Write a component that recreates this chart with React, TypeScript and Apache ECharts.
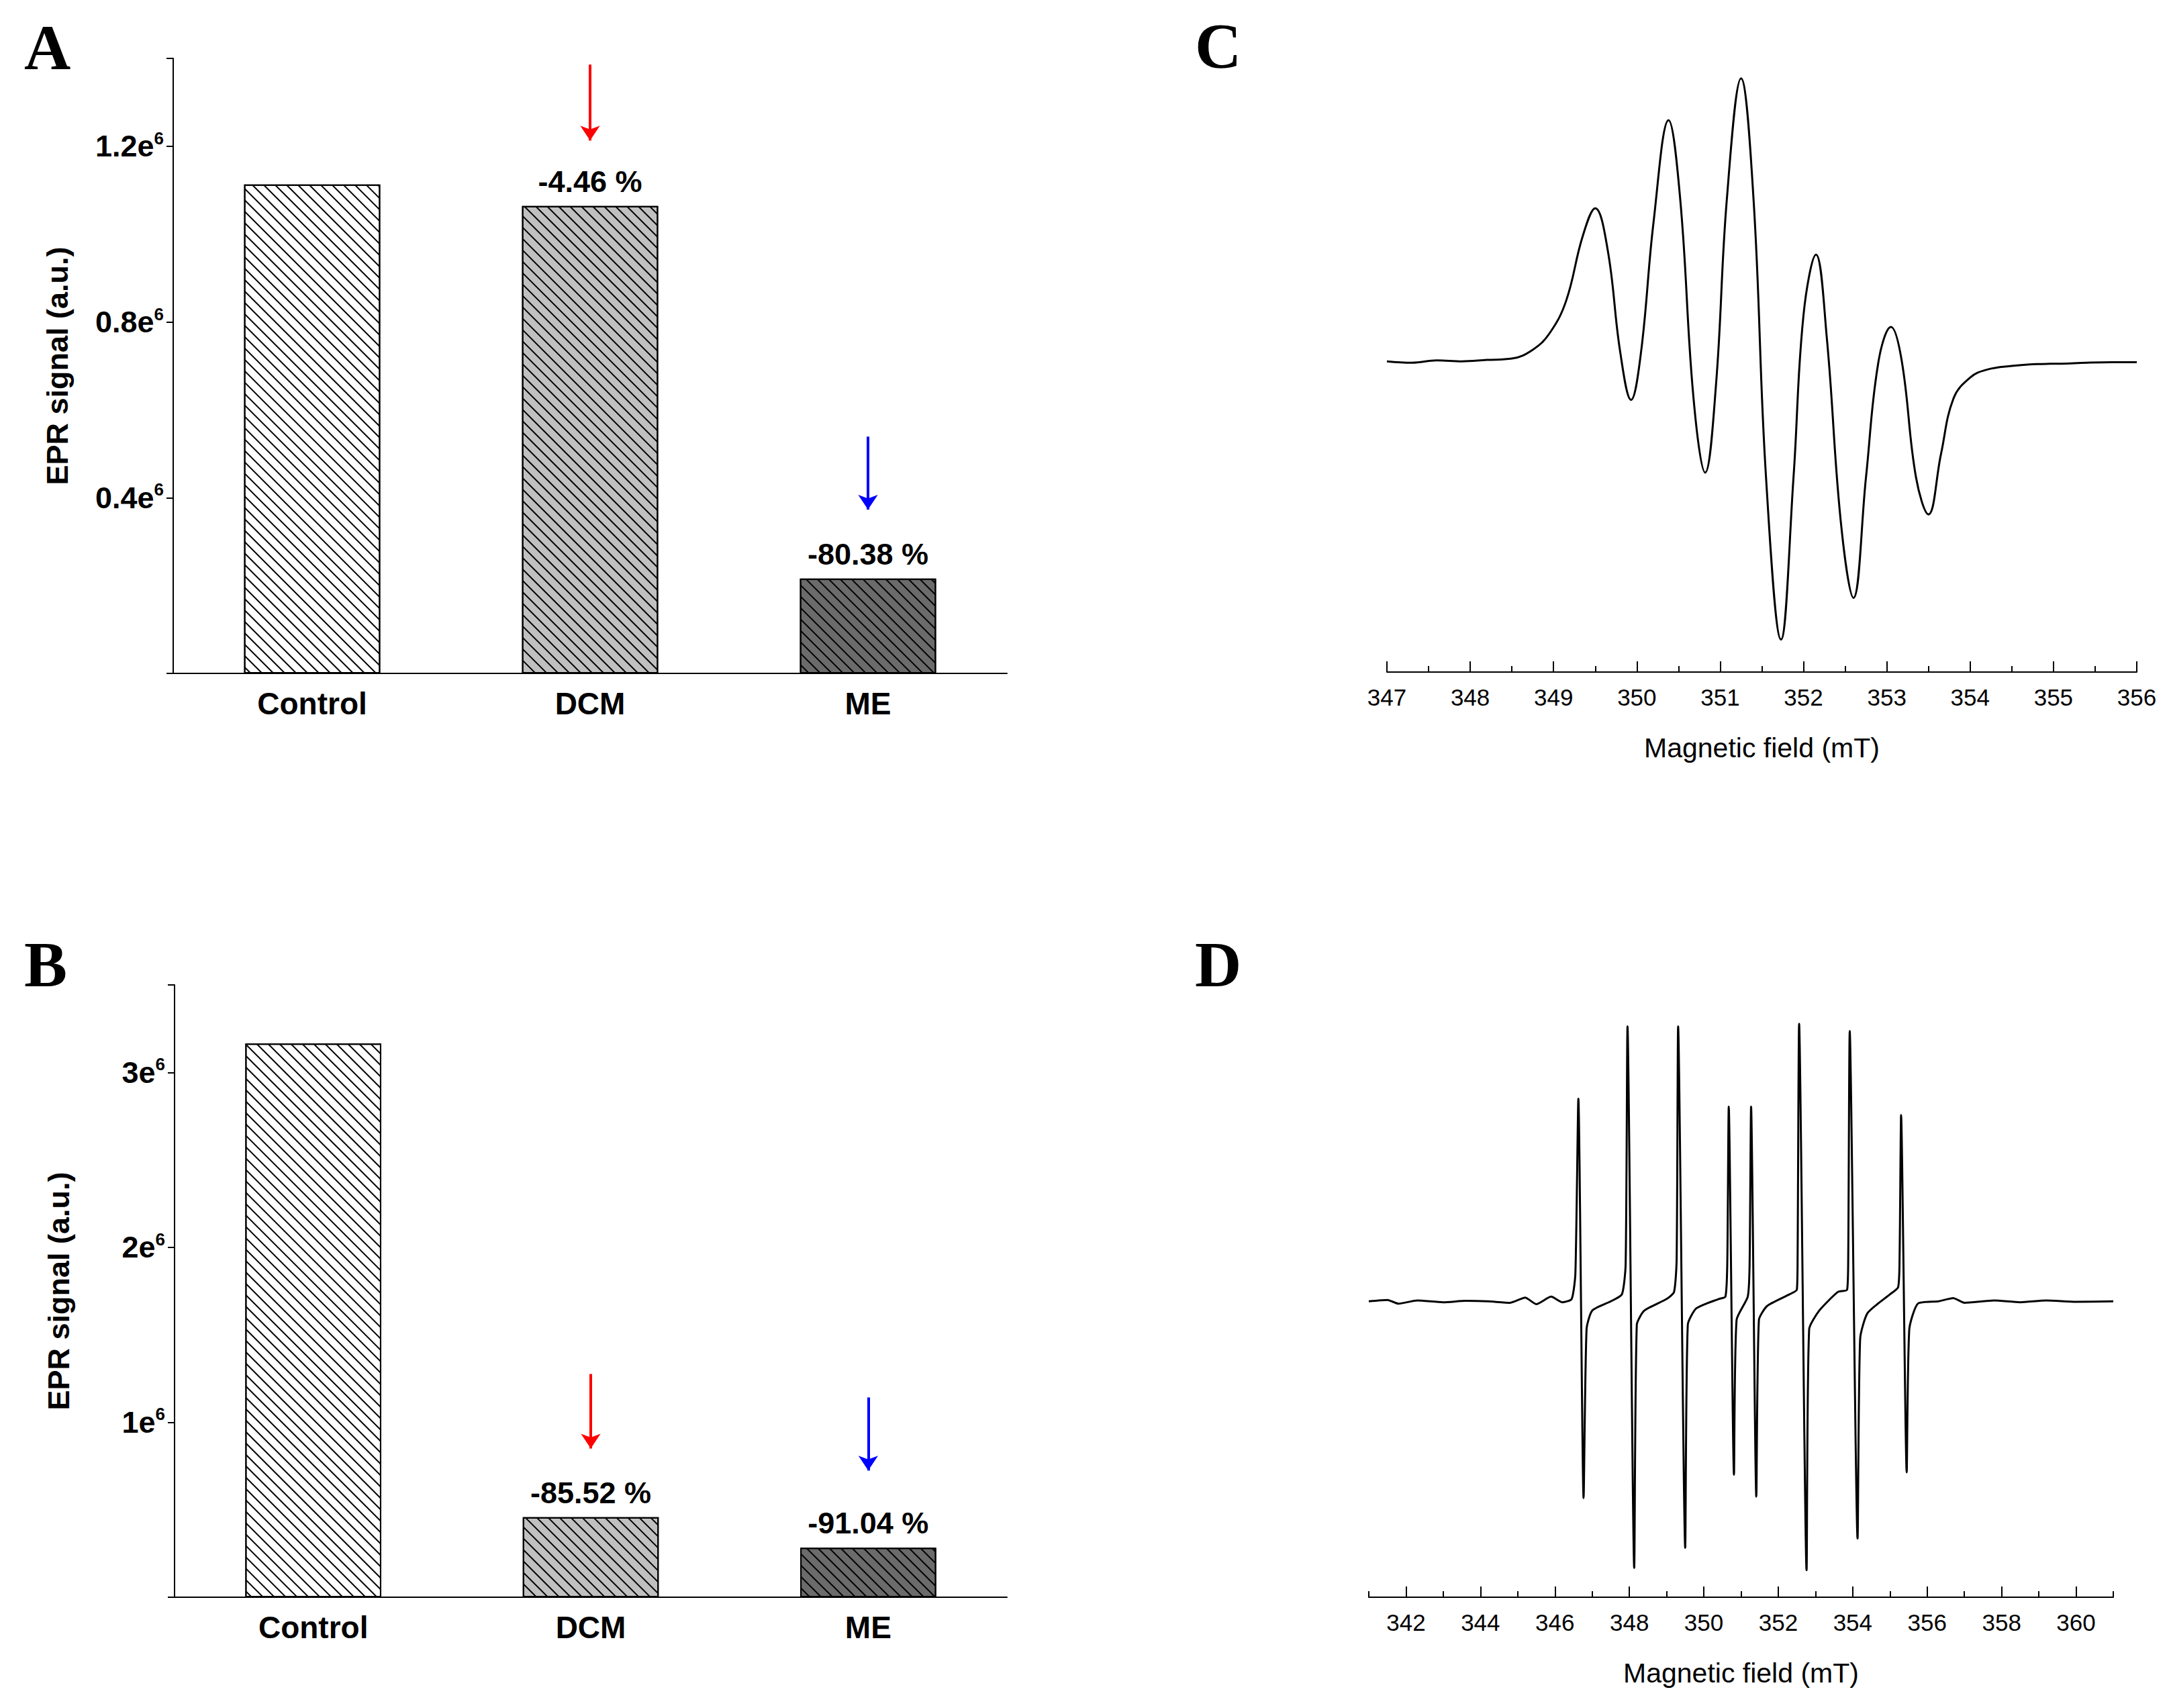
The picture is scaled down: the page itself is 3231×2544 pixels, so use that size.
import { useEffect, useRef } from "react";
import * as echarts from "echarts";

const categories = ["Control", "DCM", "ME"];
const valuesA = [1113000, 1064000, 216000];
const pctA = ["", "-4.46 %", "-80.38 %"];
const valuesB = [3165000, 458000, 283000];
const pctB = ["", "-85.52 %", "-91.04 %"];
const ticksC = [347, 348, 349, 350, 351, 352, 353, 354, 355, 356];
const ticksD = [342, 344, 346, 348, 350, 352, 354, 356, 358, 360];

// spectrum C: [field mT, signal a.u.]
const spectrumC = [
  [347.0, 0], [347.3, -0.3], [347.6, 0.2], [347.9, 0], [348.2, 0.3], [348.5, 0.6],
  [348.75, 2.5], [348.95, 6], [349.15, 13], [349.35, 27], [349.5, 33], [349.65, 24],
  [349.8, 2], [349.93, -8.3], [350.05, 2], [350.2, 30], [350.38, 52], [350.52, 35],
  [350.68, -8], [350.82, -24], [350.95, -5], [351.08, 35], [351.25, 61], [351.4, 35],
  [351.55, -25], [351.73, -60], [351.88, -25], [352.0, 10], [352.15, 23], [352.28, 5],
  [352.45, -35], [352.6, -51], [352.75, -25], [352.9, 0], [353.05, 7.4], [353.18, 0],
  [353.35, -25], [353.5, -33], [353.65, -20], [353.8, -8], [354.0, -3.5], [354.2, -1.8],
  [354.5, -1.0], [354.8, -0.6], [355.1, -0.5], [355.4, -0.3], [355.7, -0.2], [356.0, -0.2],
];

// spectrum D: [field mT, signal a.u.]
const spectrumD = [
  [341.0, 0], [341.5, 3], [341.8, -5], [342.3, 2], [343.0, -2], [343.6, 1], [344.2, 0],
  [344.8, -3], [345.2, 8], [345.5, -6], [345.9, 10], [346.2, -2], [346.45, 5],
  [346.55, 60], [346.63, 435], [346.77, -422], [346.85, -60], [347.0, -20], [347.5, 0], [347.8, 15],
  [347.9, 80], [347.95, 590], [348.13, -572], [348.2, -50], [348.4, -20], [349.0, 5], [349.2, 20],
  [349.27, 90], [349.31, 590], [349.5, -529], [349.57, -50], [349.8, -15], [350.4, 5], [350.58, 10],
  [350.63, 80], [350.67, 418], [350.81, -372], [350.88, -40], [351.18, 10],
  [351.23, 80], [351.27, 418], [351.41, -419], [351.48, -40], [351.7, -10], [352.3, 15], [352.5, 25],
  [352.52, 100], [352.56, 596], [352.76, -577], [352.83, -60], [353.1, -20], [353.6, 20], [353.85, 25],
  [353.88, 100], [353.92, 580], [354.13, -509], [354.2, -80], [354.4, -25], [355.0, 15], [355.22, 30],
  [355.26, 100], [355.3, 400], [355.45, -367], [355.52, -60], [355.75, -5], [356.3, 0], [356.7, 7],
  [357.0, -3], [357.8, 2], [358.5, -2], [359.2, 2], [360.0, -1], [361.0, 0],
];

const barFill = ["#ffffff", "#c0c0c0", "#6b6b6b"];
const arrowColors = ["", "#ff0000", "#0000ff"];

export default function App() {
  const ref = useRef<HTMLDivElement>(null);

  useEffect(() => {
    document.body.style.margin = "0";
    if (!ref.current) return;
    const chart = echarts.init(ref.current, undefined, { renderer: "svg" });
    const font = "Liberation Sans, Arial, sans-serif";

    const supLabel = (v: number, max: number, fixed: boolean) => {
      if (v === 0 || v === max) return "";
      const m = v / 1e6;
      return `{b|${fixed ? m.toFixed(1) : m}e}{s|6}`;
    };
    const supRich = {
      b: { fontSize: 45, fontWeight: "bold", fontFamily: font, color: "#000" },
      s: { fontSize: 26, fontWeight: "bold", fontFamily: font, color: "#000", padding: [0, 0, 24, 0] },
    };

    const barSeries = (idx: number, values: number[], pct: string[], arrows: number[][]) => ({
      type: "bar",
      xAxisIndex: idx,
      yAxisIndex: idx,
      barWidth: "49%",
      data: values.map((v, i) => ({
        value: v,
        itemStyle: {
          color: barFill[i],
          borderColor: "#000",
          borderWidth: 2,
          decal: {
            symbol: "rect",
            color: "#000",
            dashArrayX: [1, 0],
            dashArrayY: [2, 10],
            rotation: Math.PI / 4,
          },
        },
      })),
      label: {
        show: true,
        position: "top",
        distance: 14,
        formatter: (p: any) => pct[p.dataIndex],
        fontSize: 45,
        fontWeight: "bold",
        fontFamily: font,
        color: "#000",
      },
      markLine: {
        silent: true,
        symbol: ["none", "arrow"],
        symbolSize: 22,
        label: { show: false },
        data: arrows.map((a) => [
          { coord: [a[0], a[1]], lineStyle: { color: arrowColors[a[0]], width: 4, type: "solid" } },
          { coord: [a[0], a[2]] },
        ]),
      },
    });

    const catAxis = (idx: number) => ({
      type: "category",
      gridIndex: idx,
      data: categories,
      axisLine: { lineStyle: { color: "#000", width: 2 } },
      axisTick: { show: false },
      axisLabel: { fontSize: 46, fontWeight: "bold", fontFamily: font, color: "#000", margin: 22 },
    });

    const valAxis = (idx: number, max: number, interval: number, fixed: boolean) => ({
      type: "value",
      gridIndex: idx,
      min: 0,
      max,
      interval,
      name: "EPR signal (a.u.)",
      nameLocation: "middle",
      nameGap: 150,
      nameTextStyle: { fontSize: 45, fontWeight: "bold", fontFamily: font, color: "#000" },
      splitLine: { show: false },
      axisLine: { show: true, lineStyle: { color: "#000", width: 2 } },
      axisTick: { show: true, length: 10, lineStyle: { width: 2 } },
      axisLabel: { formatter: (v: number) => supLabel(v, max, fixed), rich: supRich, margin: 14 },
    });

    const fieldAxis = (idx: number, min: number, max: number, ticks: number[]) => ({
      type: "value",
      gridIndex: idx,
      min,
      max,
      name: "Magnetic field (mT)",
      nameLocation: "middle",
      nameGap: 92,
      nameTextStyle: { fontSize: 41, fontFamily: font, color: "#000" },
      splitLine: { show: false },
      axisLine: { show: true, onZero: false, lineStyle: { color: "#000", width: 2 } },
      axisTick: { show: true, inside: true, length: 16, lineStyle: { width: 2 }, customValues: ticks },
      axisLabel: { fontSize: 35, fontFamily: font, color: "#000", margin: 20, customValues: ticks },
    });

    const minorAxis = (idx: number, min: number, max: number, interval: number) => ({
      type: "value",
      gridIndex: idx,
      position: "bottom",
      min,
      max,
      interval,
      splitLine: { show: false },
      axisLine: { show: false, onZero: false },
      axisTick: { show: true, inside: true, length: 9, lineStyle: { color: "#000", width: 2 } },
      axisLabel: { show: false },
    });

    const letter = (text: string, x: number, y: number) => ({
      type: "text",
      left: x,
      top: y,
      style: { text, fontSize: 96, fontWeight: "bold", fontFamily: "Liberation Serif, serif", fill: "#000" },
    });

    chart.setOption({
      animation: false,
      backgroundColor: "#fff",
      grid: [
        { left: 258, top: 87, width: 1242, height: 916 },
        { left: 260, top: 1467, width: 1240, height: 912 },
        { left: 2066, top: 103, width: 1117, height: 898 },
        { left: 2039, top: 1508, width: 1109, height: 871 },
      ],
      xAxis: [
        catAxis(0),
        catAxis(1),
        fieldAxis(2, 347, 356, ticksC),
        fieldAxis(3, 341, 361, ticksD),
        minorAxis(2, 347, 356, 0.5),
        minorAxis(3, 341, 361, 1),
      ],
      yAxis: [
        valAxis(0, 1400000, 400000, true),
        valAxis(1, 3500000, 1000000, false),
        { type: "value", gridIndex: 2, min: -67, max: 63, show: false },
        { type: "value", gridIndex: 3, min: -635, max: 620, show: false },
      ],
      series: [
        barSeries(0, valuesA, pctA, [[1, 1386000, 1213000], [2, 539000, 373000]]),
        barSeries(1, valuesB, pctB, [[1, 1276000, 850000], [2, 1142000, 724000]]),
        {
          type: "line",
          xAxisIndex: 2,
          yAxisIndex: 2,
          data: spectrumC,
          smooth: 0.4,
          showSymbol: false,
          lineStyle: { color: "#000", width: 3 },
        },
        {
          type: "line",
          xAxisIndex: 3,
          yAxisIndex: 3,
          data: spectrumD,
          smooth: 0.2,
          showSymbol: false,
          lineStyle: { color: "#000", width: 3 },
        },
      ],
      graphic: [
        letter("A", 36, 22),
        letter("B", 36, 1388),
        letter("C", 1780, 20),
        letter("D", 1780, 1388),
      ],
    });

    return () => chart.dispose();
  }, []);

  return <div ref={ref} style={{ width: 3231, height: 2544 }} />;
}
